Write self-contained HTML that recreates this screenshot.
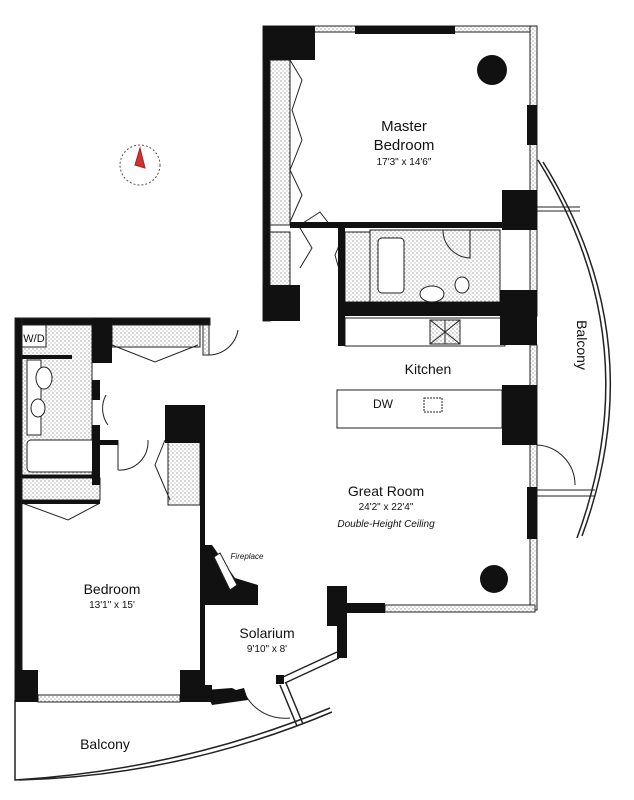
<!DOCTYPE html>
<html><head><style>
body{margin:0;background:#fff}
svg{display:block}
text{font-family:"Liberation Sans",sans-serif;fill:#111}
</style></head><body>
<svg width="634" height="800" viewBox="0 0 634 800" xmlns="http://www.w3.org/2000/svg">
<defs>
<pattern id="h" width="4" height="4" patternUnits="userSpaceOnUse"><rect width="4" height="4" fill="#fff"/><circle cx="1" cy="1" r="0.7" fill="#999"/><circle cx="3" cy="3" r="0.7" fill="#bbb"/></pattern>
</defs>
<g fill="none" stroke="#222" stroke-width="1">
<rect x="263" y="26" width="274" height="6" fill="url(#h)"/>
<rect x="530" y="26" width="7" height="290" fill="url(#h)"/>
<rect x="263" y="26" width="7" height="295" fill="#111"/>
<rect x="270" y="60" width="20" height="165" fill="url(#h)"/>
<rect x="270" y="232" width="20" height="55" fill="url(#h)"/>
<rect x="345" y="232" width="25" height="70" fill="url(#h)"/>
<rect x="370" y="230" width="130" height="72" fill="url(#h)"/>
<rect x="378" y="238" width="26" height="55" rx="4" fill="#fff"/>
<ellipse cx="432" cy="294" rx="12" ry="8" fill="#fff"/>
<ellipse cx="462" cy="285" rx="7" ry="8" fill="#fff"/>
<path d="M443 230 A 28 28 0 0 0 470 258 L470 230"/>
<path d="M300 225 L320 212 L330 225 M300 228 L312 248 L300 268 M345 232 L335 255 L345 290"/>
<path d="M290 60 L302 80 L292 110 L302 140 L290 170 L302 195 L290 222"/>
<rect x="345" y="318" width="160" height="28" fill="#fff"/>
<rect x="430" y="320" width="30" height="24" fill="url(#h)"/>
<path d="M430 320 L460 344 M460 320 L430 344 M445 320 L445 344"/>
<rect x="337" y="390" width="165" height="38" fill="#fff"/>
<rect x="424" y="398" width="18" height="14" fill="#fff" stroke-dasharray="2 1"/>
<rect x="530" y="345" width="7" height="265" fill="url(#h)"/>
<rect x="385" y="605" width="150" height="7" fill="url(#h)"/>
<path d="M537 445 A 40 40 0 0 1 575 485 M537 490 L595 490 M537 496 L595 496 M537 207 L580 207 M537 211 L580 211"/>
<path d="M538 160 Q 650 340 577 538 M543 162 Q 654 340 582 536" stroke-width="1.5"/>
<rect x="15" y="318" width="195" height="7" fill="#111"/>
<rect x="15" y="318" width="7" height="382" fill="#111"/>
<rect x="22" y="325" width="70" height="150" fill="url(#h)"/>
<rect x="22" y="325" width="24" height="22" fill="#fff"/>
<rect x="27" y="360" width="14" height="75" fill="#fff"/>
<ellipse cx="44" cy="378" rx="8" ry="11" fill="#fff"/>
<ellipse cx="38" cy="408" rx="7" ry="9" fill="#fff"/>
<rect x="27" y="440" width="70" height="32" rx="4" fill="#fff"/>
<rect x="112" y="325" width="88" height="22" fill="url(#h)"/>
<path d="M112 345 L155 362 L198 345"/>
<rect x="203" y="325" width="6" height="30" fill="url(#h)"/>
<path d="M209 355 A 30 30 0 0 0 238 330"/>
<path d="M108 425 A 28 28 0 0 1 106 395"/>
<rect x="22" y="478" width="78" height="22" fill="url(#h)"/>
<path d="M22 503 L68 520 L100 503"/>
<rect x="168" y="440" width="32" height="65" fill="url(#h)"/>
<path d="M165 440 L155 465 L170 500"/>
<path d="M118 470 L118 440 M118 470 A 28 28 0 0 0 148 440"/>
<rect x="38" y="695" width="142" height="7" fill="url(#h)"/>
<path d="M15 700 L15 780 Q 180 770 330 708 M19 780 Q 180 776 332 712" stroke-width="1.5"/>
<path d="M246 696 A 45 45 0 0 0 290 718"/>
<path d="M283 677 L337 652 M285 683 L339 658" stroke-width="1.5"/>
<path d="M280 685 L297 726 M286 683 L303 724" stroke-width="1.5"/>
</g>
<g fill="#111">
<rect x="263" y="26" width="52" height="34"/>
<rect x="355" y="26" width="100" height="8"/>
<rect x="527" y="105" width="10" height="40"/>
<rect x="502" y="190" width="35" height="40"/>
<rect x="290" y="222" width="212" height="6"/>
<rect x="263" y="285" width="37" height="36"/>
<rect x="338" y="228" width="7" height="118"/>
<rect x="345" y="302" width="183" height="14"/>
<rect x="500" y="290" width="37" height="55"/>
<rect x="502" y="385" width="35" height="60"/>
<rect x="527" y="487" width="10" height="52"/>
<rect x="327" y="586" width="20" height="40"/>
<rect x="345" y="603" width="40" height="10"/>
<rect x="337" y="620" width="10" height="38"/>
<rect x="276" y="675" width="8" height="9"/>
<rect x="480" y="565" width="28" height="28" rx="14"/>
<rect x="477" y="55" width="30" height="30" rx="15"/>
<rect x="92" y="318" width="20" height="45"/>
<rect x="22" y="355" width="50" height="4"/>
<rect x="92" y="380" width="8" height="20"/>
<rect x="92" y="425" width="8" height="60"/>
<rect x="165" y="405" width="35" height="38"/>
<rect x="200" y="405" width="5" height="285"/>
<rect x="100" y="440" width="18" height="5"/>
<rect x="22" y="475" width="78" height="3"/>
<rect x="22" y="500" width="78" height="4"/>
<rect x="15" y="670" width="23" height="32"/>
<rect x="180" y="670" width="25" height="32"/>
<rect x="200" y="685" width="12" height="17"/>
<polygon points="205,545 212,545 235,578 258,585 258,605 205,605"/>
<polygon points="205,690 232,688 236,690 244,688 248,700 212,705"/>
</g>
<polygon points="214,557 230,590 237,585 220,553" fill="#fff" stroke="#222"/>
<g stroke="#555" fill="none">
<circle cx="140" cy="165" r="20" stroke-dasharray="2 2"/>
<polygon points="140,148 145,168 135,165" fill="#c33" stroke="#a22"/>
</g>
<text x="404" y="131" font-size="15" text-anchor="middle">Master</text>
<text x="404" y="150" font-size="15" text-anchor="middle">Bedroom</text>
<text x="404" y="165" font-size="10" text-anchor="middle">17'3" x 14'6"</text>
<text x="428" y="374" font-size="14" text-anchor="middle">Kitchen</text>
<text x="383" y="408" font-size="12" text-anchor="middle">DW</text>
<text x="386" y="496" font-size="14" text-anchor="middle">Great Room</text>
<text x="386" y="510" font-size="10" text-anchor="middle">24'2" x 22'4"</text>
<text x="386" y="527" font-size="10" font-style="italic" text-anchor="middle">Double-Height Ceiling</text>
<text x="577" y="345" font-size="14" text-anchor="middle" transform="rotate(90 577 345)">Balcony</text>
<text x="34" y="342" font-size="11" text-anchor="middle">W/D</text>
<text x="112" y="594" font-size="14" text-anchor="middle">Bedroom</text>
<text x="112" y="608" font-size="10" text-anchor="middle">13'1" x 15'</text>
<text x="247" y="559" font-size="8" font-style="italic" text-anchor="middle">Fireplace</text>
<text x="267" y="638" font-size="14" text-anchor="middle">Solarium</text>
<text x="267" y="652" font-size="10" text-anchor="middle">9'10" x 8'</text>
<text x="105" y="749" font-size="14" text-anchor="middle">Balcony</text>
</svg>
</body></html>
